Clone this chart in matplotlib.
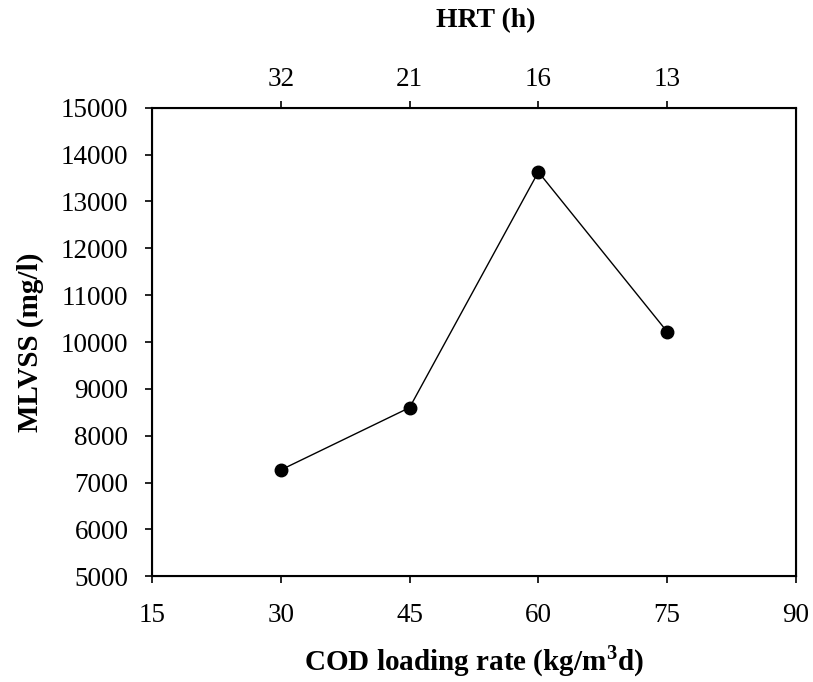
import matplotlib
matplotlib.use("Agg")
import matplotlib.pyplot as plt

# datos
cod_rate = [30, 45, 60, 75]
mlvss = [7270, 8600, 13630, 10220]
hrt_labels = ["32", "21", "16", "13"]
x_ticks = [15, 30, 45, 60, 75, 90]
y_ticks = list(range(5000, 15001, 1000))

plt.rcParams["font.family"] = ["Liberation Serif", "DejaVu Serif"]
plt.rcParams["mathtext.fontset"] = "custom"
plt.rcParams["mathtext.rm"] = "Liberation Serif"
plt.rcParams["mathtext.bf"] = "Liberation Serif:bold"

fig = plt.figure(figsize=(8.13, 6.82), dpi=100)
ax = fig.add_axes([0.187, 0.155, 0.792, 0.687])

ax.plot(cod_rate, mlvss, color="black", linewidth=1.0,
        marker="o", markersize=9, markerfacecolor="black")

ax.set_xlim(15, 90)
ax.set_ylim(5000, 15000)
ax.set_xticks(x_ticks)
ax.set_yticks(y_ticks)
ax.tick_params(direction="out", length=5, width=1.2, labelsize=19.5)
ax.tick_params(axis="x", pad=14)
ax.tick_params(axis="y", pad=12)
ax.tick_params(right=False)
for s in ax.spines.values():
    s.set_linewidth(1.5)

ax.set_xlabel("COD loading rate (kg/m$^{\\mathbf{3}}$d)", fontsize=21,
              fontweight="bold", labelpad=11)
ax.set_ylabel("MLVSS (mg/l)", fontsize=21, fontweight="bold", labelpad=12)

# eje superior con HRT
top = ax.twiny()
top.set_xlim(ax.get_xlim())
top.set_xticks(cod_rate)
top.set_xticklabels(hrt_labels)
top.tick_params(direction="out", length=5, width=1.2, labelsize=19.5, pad=6)

# el titulo del eje superior esta algo corrido a la derecha
fig.text(486 / 813, 1 - 21 / 682, "HRT (h)", fontsize=20, fontweight="bold",
         ha="center", va="center")

fig.savefig("out.png", dpi=100)
